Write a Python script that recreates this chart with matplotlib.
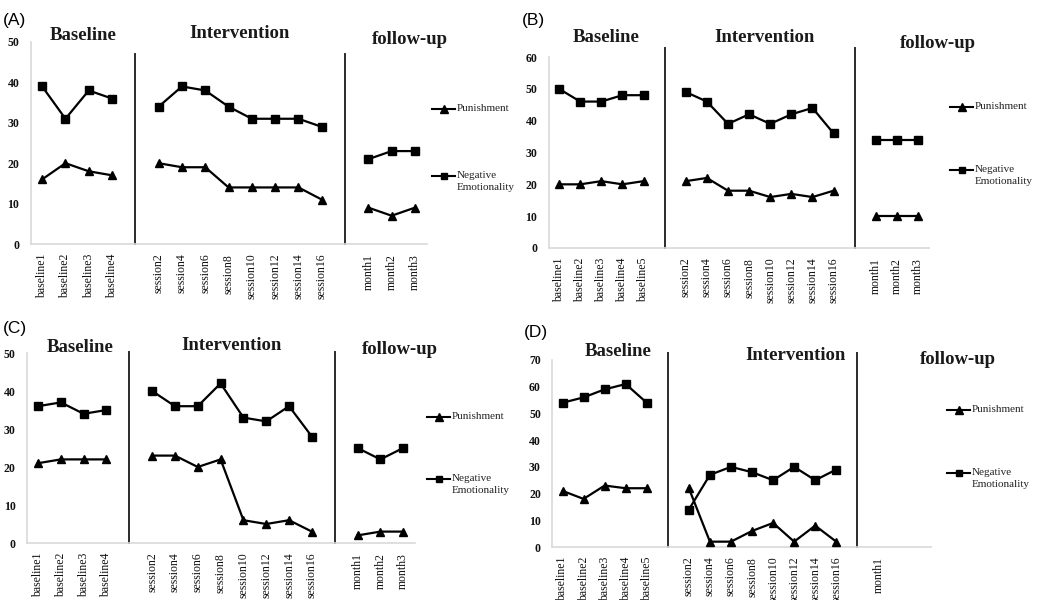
import matplotlib.pyplot as plt
from matplotlib.lines import Line2D

W, H = 1040, 600
SERIF = "Liberation Serif"

# ---- data -------------------------------------------------------------
baseline4 = ["baseline1", "baseline2", "baseline3", "baseline4"]
baseline5 = ["baseline1", "baseline2", "baseline3", "baseline4", "baseline5"]
sessions = ["session2", "session4", "session6", "session8",
            "session10", "session12", "session14", "session16"]
months3 = ["month1", "month2", "month3"]
months1 = ["month1"]

# (A)
a_base_pun = [16, 20, 18, 17]
a_base_neg = [39, 31, 38, 36]
a_int_pun = [20, 19, 19, 14, 14, 14, 14, 11]
a_int_neg = [34, 39, 38, 34, 31, 31, 31, 29]
a_fu_pun = [9, 7, 9]
a_fu_neg = [21, 23, 23]

# (B)
b_base_pun = [20, 20, 21, 20, 21]
b_base_neg = [50, 46, 46, 48, 48]
b_int_pun = [21, 22, 18, 18, 16, 17, 16, 18]
b_int_neg = [49, 46, 39, 42, 39, 42, 44, 36]
b_fu_pun = [10, 10, 10]
b_fu_neg = [34, 34, 34]

# (C)
c_base_pun = [21, 22, 22, 22]
c_base_neg = [36, 37, 34, 35]
c_int_pun = [23, 23, 20, 22, 6, 5, 6, 3]
c_int_neg = [40, 36, 36, 42, 33, 32, 36, 28]
c_fu_pun = [2, 3, 3]
c_fu_neg = [25, 22, 25]

# (D)  - no follow-up values recorded
d_base_pun = [21, 18, 23, 22, 22]
d_base_neg = [54, 56, 59, 61, 54]
d_int_pun = [22, 2, 2, 6, 9, 2, 8, 2]
d_int_neg = [14, 27, 30, 28, 25, 30, 25, 29]
d_fu_pun = []
d_fu_neg = []

fig = plt.figure(figsize=(W / 100, H / 100), dpi=100)


def fx(x):
    return x / W


def fy(y):
    return 1 - y / H


def draw_panel(letter, box, ymax, base_labels, fu_labels,
               pun, neg, letter_pos, titles, div_top, legend):
    left, top, right, bottom = box
    ax = fig.add_axes([fx(left), fy(bottom), (right - left) / W, (bottom - top) / H])

    nb, ns, nf = len(base_labels), len(sessions), len(fu_labels)
    x_base = list(range(nb))
    x_int = list(range(nb + 1, nb + 1 + ns))
    x_fu = list(range(nb + ns + 2, nb + ns + 2 + nf))

    for xs, p, n in zip([x_base, x_int, x_fu], pun, neg):
        if not p:
            continue
        ax.plot(xs, p, color="black", lw=1.6, marker="^", ms=6, zorder=3)
        ax.plot(xs, n, color="black", lw=1.6, marker="s", ms=5.5, zorder=3)

    ax.set_xlim(-0.5, nb + ns + 2 + 2.5)
    ax.set_ylim(0, ymax)
    ax.set_yticks(range(0, ymax + 1, 10))
    ax.set_xticks(x_base + x_int + x_fu)
    ax.set_xticklabels(base_labels + sessions + fu_labels, rotation=90,
                       fontfamily=SERIF, fontsize=8.5, color="#111111")
    for lab in ax.get_yticklabels():
        lab.set_fontfamily(SERIF)
        lab.set_fontweight("bold")
        lab.set_fontsize(8.5)
        lab.set_color("#111111")
    ax.tick_params(length=0)
    ax.tick_params(axis="y", pad=8)
    ax.tick_params(axis="x", pad=7)
    for s in ["top", "right"]:
        ax.spines[s].set_visible(False)
    for s in ["left", "bottom"]:
        ax.spines[s].set_color("#d9d9d9")
        ax.spines[s].set_linewidth(1.2)

    # phase dividers
    frac = (bottom - div_top) / (bottom - top)
    for xd in [nb, nb + ns + 1]:
        ax.axvline(xd, ymin=0, ymax=frac, color="#2b2b2b", lw=1.4, clip_on=False)

    # panel letter and phase titles
    fig.text(fx(letter_pos[0]), fy(letter_pos[1]), letter, fontfamily="Liberation Sans",
             fontsize=12.5, ha="left", va="center")
    for (tx, ty), name in zip(titles, ["Baseline", "Intervention", "follow-up"]):
        fig.text(fx(tx), fy(ty), name, fontfamily=SERIF, fontweight="bold",
                 fontsize=13.5, ha="center", va="center", color="#1a1a1a")

    # legend on the right
    lx, ly_p, ly_n = legend
    for ly, mk, ms, label in [(ly_p, "^", 5.5, "Punishment"),
                              (ly_n, "s", 5, "Negative\nEmotionality")]:
        fig.add_artist(Line2D([fx(lx), fx(lx + 11.5), fx(lx + 23)], [fy(ly)] * 3,
                              color="black", lw=1.5, marker=mk, ms=ms, markevery=[1]))
        fig.text(fx(lx + 25), fy(ly - 5), label, fontfamily=SERIF, fontsize=8,
                 ha="left", va="top", linespacing=1.45, color="#222222")
    return ax


draw_panel("(A)", (30.5, 42, 426.6, 244), 50, baseline4, months3,
           [a_base_pun, a_int_pun, a_fu_pun], [a_base_neg, a_int_neg, a_fu_neg],
           (3, 21), [(83, 35), (240, 33), (410, 40)], 54, (432, 109, 176))
draw_panel("(B)", (548.5, 57, 928.6, 248), 60, baseline5, months3,
           [b_base_pun, b_int_pun, b_fu_pun], [b_base_neg, b_int_neg, b_fu_neg],
           (522, 21), [(606, 38), (765, 37), (938, 43)], 48, (950, 107, 170))
draw_panel("(C)", (26.6, 353, 414.6, 543), 50, baseline4, months3,
           [c_base_pun, c_int_pun, c_fu_pun], [c_base_neg, c_int_neg, c_fu_neg],
           (3, 329), [(80, 347), (232, 345), (400, 350)], 352, (427, 417, 479))
draw_panel("(D)", (552, 360, 931, 547), 70, baseline5, months1,
           [d_base_pun, d_int_pun, d_fu_pun], [d_base_neg, d_int_neg, d_fu_neg],
           (524, 332), [(618, 352), (796, 355), (958, 360)], 353, (947, 410, 473))

fig.savefig("out.png", dpi=100, facecolor="white")
